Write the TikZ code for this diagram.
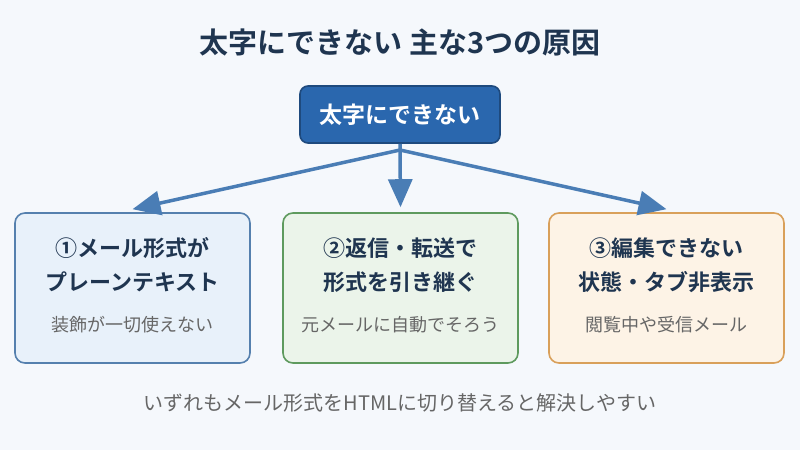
\documentclass[tikz,border=0pt]{standalone}
\usepackage{fontspec}
\setmainfont{Noto Sans CJK JP}[BoldFont={Noto Sans CJK JP Bold}]
\usetikzlibrary{arrows.meta}
\definecolor{bg}{HTML}{F5F8FC}
\definecolor{navy}{HTML}{1F3550}
\definecolor{topfill}{HTML}{2A67AE}
\definecolor{topdraw}{HTML}{1E4A7E}
\definecolor{arr}{HTML}{4A7DB5}
\definecolor{bfill}{HTML}{E8F1FA}\definecolor{bdraw}{HTML}{5580AE}
\definecolor{gfill}{HTML}{EBF4EA}\definecolor{gdraw}{HTML}{5E9A5E}
\definecolor{ofill}{HTML}{FDF3E6}\definecolor{odraw}{HTML}{D9A05A}
\definecolor{greytext}{HTML}{666666}
\tikzset{
  causebox/.style={draw, line width=1.6pt, rounded corners=10pt, minimum width=235pt, minimum height=150pt, inner sep=0pt},
  headtext/.style={font=\bfseries\fontsize{22}{34}\selectfont, text=navy, align=center},
  subtext/.style={font=\fontsize{18}{22}\selectfont, text=greytext},
  arrowline/.style={draw=arr, line width=3.5pt, -{Triangle[length=28pt,width=24pt]}}
}
\begin{document}
\begin{tikzpicture}[x=1pt,y=-1pt]
\fill[bg] (0,0) rectangle (800,450);
\useasboundingbox (0,0) rectangle (800,450);
\node[font=\bfseries\fontsize{29}{34}\selectfont, text=navy] (title) at (400,42) {太字にできない 主な3つの原因};
\node[draw=topdraw, fill=topfill, line width=1.6pt, rounded corners=8pt, minimum width=200pt, minimum height=57pt, text=white, font=\bfseries\fontsize{23}{28}\selectfont] (top) at (400,114.5) {太字にできない};
\coordinate (hub) at (400,150);
\node[causebox, draw=bdraw, fill=bfill] (b1) at (132.5,288) {};
\node[causebox, draw=gdraw, fill=gfill] (b2) at (400.5,288) {};
\node[causebox, draw=odraw, fill=ofill] (b3) at (666.5,288) {};
\node[headtext] (h1) at (132.5,265) {①メール形式が\\プレーンテキスト};
\node[headtext] (h2) at (400.5,265) {②返信・転送で\\形式を引き継ぐ};
\node[headtext] (h3) at (666.5,265) {③編集できない\\状態・タブ非表示};
\node[subtext] (s1) at (132.5,325) {装飾が一切使えない};
\node[subtext] (s2) at (400.5,325) {元メールに自動でそろう};
\node[subtext] (s3) at (666.5,325) {閲覧中や受信メール};
\draw[arrowline] (top.south) -- (hub) -- ([yshift=3pt]b1.north);
\draw[arrowline] (hub) -- ([yshift=5pt]b2.north);
\draw[arrowline] (hub) -- ([yshift=3pt]b3.north);
\node[font=\fontsize{20}{24}\selectfont, text=greytext] (foot) at (400,403) {いずれもメール形式をHTMLに切り替えると解決しやすい};
\end{tikzpicture}
\end{document}
